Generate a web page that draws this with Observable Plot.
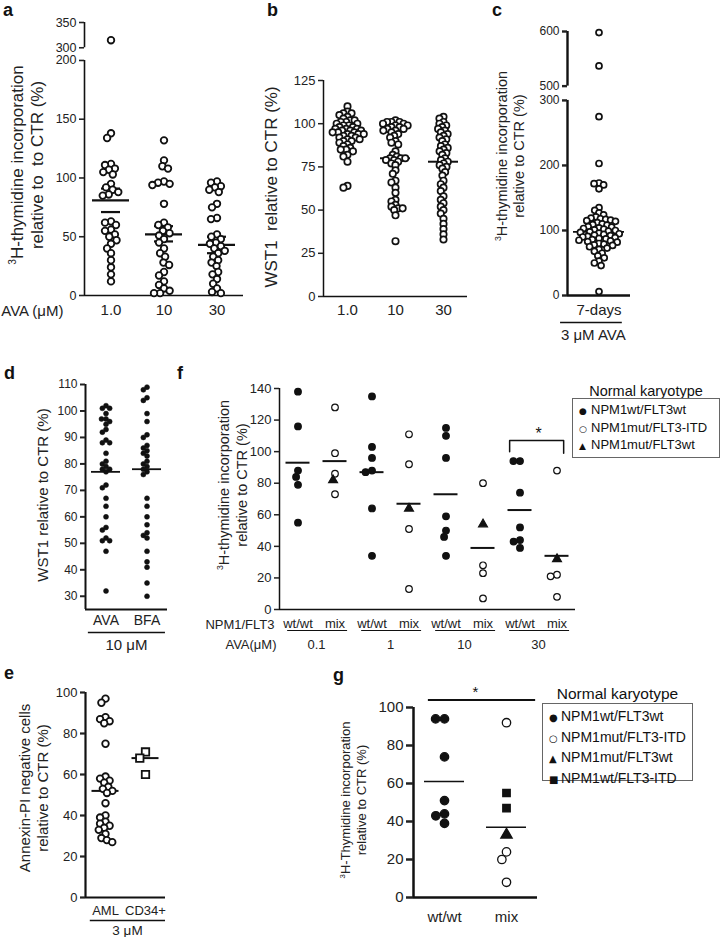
<!DOCTYPE html>
<html><head><meta charset="utf-8">
<script src="https://cdn.jsdelivr.net/npm/d3@7"></script>
<script src="https://cdn.jsdelivr.net/npm/@observablehq/plot@0.6"></script>
<style>
body{margin:0;background:#fff;font-family:"Liberation Sans",Arial,Helvetica,sans-serif;color:#111}
#fig{position:relative;width:723px;height:937px;overflow:hidden;background:#fff}
.lt{position:absolute;font-weight:bold;font-size:18px;line-height:18px}
.yt{position:absolute;transform:translate(-50%,-50%) rotate(-90deg);white-space:nowrap;text-align:center;color:#222}
.yt sup{font-size:0.6em;line-height:0}
.lg{position:absolute;box-sizing:border-box;border:1px solid #666;color:#111}
.lg .s{display:inline-block;width:12px;font-family:"DejaVu Sans";color:#111}
.lh{position:absolute;text-align:center;white-space:nowrap;color:#111}
</style></head>
<body><div id="fig"></div>
<script>
// ---------------- data ----------------
// panel a: 3H-thymidine incorporation, AVA 1.0 / 10 / 30 uM
const aCats = ["1.0", "10", "30"];
const a_1 = [315,138,134,112,111,108,107,105,103,95,92,90,88,86,85,63,62,60,56,55,52,50,47,44,40,36,30,24,18,12];
const a_10 = [132,115,110,108,97,96,95,94,78,62,60,58,55,53,51,48,45,40,36,33,28,26,20,17,12,9,6,4,2,2];
const a_30 = [97,96,93,92,90,88,78,75,66,65,52,50,48,45,44,42,40,38,36,33,30,28,25,20,18,14,10,6,3,2];
const aMeans = [81, 52, 43];
const aSemLo = [71, 46, 36];
const aSemHi = [91, 59, 50];
const aTicks = [0, 50, 100, 150, 200, 300, 350];
const aBreak = [200, 300]; // axis break

// panel b: WST1
const bCats = ["1.0", "10", "30"];
const b_1 = [110,107,106,106,105,104,103,102,102,101,101,100,100,99,99,98,98,97,97,97,96,96,96,95,95,95,94,94,94,93,93,92,92,91,91,90,90,89,88,87,86,85,85,84,82,81,78,64,63];
const b_10 = [102,101,101,101,100,100,99,99,98,98,97,97,96,96,95,94,93,92,90,89,88,84,82,81,80,80,80,79,79,78,77,76,73,71,67,66,63,60,56,55,53,52,51,51,50,47,32];
const b_30 = [104,103,101,100,99,98,97,96,95,94,93,92,91,90,88,87,86,85,84,83,82,80,79,78,77,76,75,74,72,70,67,65,63,61,58,56,54,52,50,48,45,42,39,36,33];
const bMeans = [96, 80, 78];
const bTicks = [0, 25, 50, 75, 100, 125];

// panel c: 7-days, 3 uM AVA
const cCats = ["7-days"];
const c_7 = [598,537,275,203,173,172,170,164,135,131,127,124,121,119,118,117,116,115,114,112,110,109,108,106,105,104,103,102,101,100,99,98,97,96,95,94,93,92,91,90,89,88,87,86,85,84,83,82,80,79,78,77,75,73,71,68,65,61,58,53,50,46,6];
const cMeans = [98];
const cTicks = [0, 100, 200, 300, 500, 600];
const cBreak = [300, 500]; // axis break

// panel d: WST1, AVA vs BFA 10 uM
const dCats = ["AVA", "BFA"];
const d_ava = [102,101,101,99,97,97,96,95,93,92,89,88,88,84,81,80,79,78,78,77,72,71,67,64,60,56,55,52,51,51,47,32];
const d_bfa = [109,108,105,104,99,96,91,90,87,86,85,84,83,81,80,79,78,77,76,67,64,60,57,54,53,52,47,43,41,35,30];
const dMeans = [77, 78];
const dTicks = [30, 40, 50, 60, 70, 80, 90, 100, 110];

// panel e: Annexin-PI negative cells, 3 uM
const eCats = ["AML", "CD34+"];
const e_aml = [97,95,88,87,86,85,75,59,58,57,56,54,53,52,51,46,40,39,37,36,35,34,33,31,29,28,27];
const e_cd34 = [71, 68, 60];
const eMeans = [52, 68];
const eTicks = [0, 20, 40, 60, 80, 100];

// panel f: by NPM1/FLT3 status and AVA dose
const GENOS = ["NPM1wt/FLT3wt", "NPM1mut/FLT3-ITD", "NPM1mut/FLT3wt", "NPM1wt/FLT3-ITD"];
const fDoses = ["0.1", "1", "10", "30"];
const fStatus = ["wt/wt", "mix"];
const f_wtwt = [[138,116,88,84,79,55], [135,103,96,88,87,64,34], [115,110,96,59,50,46,34], [94,94,74,52,44,43,39]];
const f_mix_itd = [[128,99,86,73], [111,92,51,13], [80,28,23,7], [88,22,21,8]];
const f_mix_mutwt = [[82], [64], [54], [32]];
const fMeans = [93, 94, 87, 67, 73, 39, 63, 34];
const fTicks = [0, 20, 40, 60, 80, 100, 120, 140];

// panel g: pooled
const gCats = ["wt/wt", "mix"];
const g_wtwt = [94, 94, 74, 51, 44, 43, 39];
const g_mix_itd = [92, 24, 20, 8];
const g_mix_wtitd = [55, 47];
const g_mix_mutwt = [33];
const gMeans = [61, 37];
const gTicks = [0, 20, 40, 60, 80, 100];

// ---------------- helpers ----------------
const INK = "#111";
const FONT = "Liberation Sans, Arial, Helvetica, sans-serif";
const fig = document.getElementById("fig");
const rows = (cats, lists, geno) => cats.flatMap((c, i) => (lists[i] || []).map(v => ({cat: c, value: v, geno})));
const meanRows = (cats, means) => cats.map((c, i) => ({cat: c, v: means[i]}));
// broken-axis transform: values above the break are shifted down and squeezed
const breakAxis = ([lo, hi], gap, k) => v => v <= lo ? v : lo + gap + (v - hi) * k;

function addPlot(svg, left, top) {
  svg.style.position = "absolute";
  svg.style.left = left + "px";
  svg.style.top = top + "px";
  fig.appendChild(svg);
}
function addDiv(cls, css, html) {
  const d = document.createElement("div");
  d.className = cls; d.style.cssText = css; d.innerHTML = html;
  fig.appendChild(d);
}

function swarm(o) {
  const first = o.cats[0];
  const T = o.yTransform || (v => v);
  const tickLabel = new Map(o.ticks.map(t => [T(t), String(t)]));
  const marks = [
    Plot.ruleY([o.base], {stroke: INK, strokeWidth: o.sw}),
    Plot.ruleX(o.segs, {fx: () => first, x: 0, y1: d => d[0], y2: d => d[1], stroke: INK, strokeWidth: o.sw}),
    Plot.axisY({ticks: o.ticks.map(T), tickFormat: t => tickLabel.get(t), tickSize: o.tickSize, tickPadding: 3, strokeWidth: o.sw, fontSize: o.tickFont, label: null}),
    Plot.axisFx({anchor: "bottom", tickSize: 0, tickPadding: o.catPad, fontSize: o.catFont, label: null, tickFormat: o.catFmt || (d => d)}),
    Plot.tickY(meanRows(o.cats, o.means), {fx: "cat", y: "v", inset: o.meanInset, stroke: INK, strokeWidth: o.meanSW})
  ];
  if (o.sem) {
    const s = o.cats.map((c, i) => ({cat: c, lo: o.sem[0][i], hi: o.sem[1][i]}));
    marks.push(Plot.ruleX(s, {fx: "cat", y1: "lo", y2: "hi", stroke: INK, strokeWidth: o.meanSW}));
    marks.push(Plot.tickY(s, {fx: "cat", y: "lo", inset: o.capInset, stroke: INK, strokeWidth: o.meanSW}));
    marks.push(Plot.tickY(s, {fx: "cat", y: "hi", inset: o.capInset, stroke: INK, strokeWidth: o.meanSW}));
  }
  for (const L of o.layers) {
    marks.push(Plot.dot(L.data, Plot.dodgeX({anchor: "middle", padding: L.pad}, {
      fx: "cat", y: "value", r: L.r, symbol: L.symbol, fill: L.fill, stroke: INK, strokeWidth: L.sw
    })));
  }
  marks.push(...(o.extra || []));
  const y = {domain: o.yDomain};
  if (o.yTransform) y.transform = o.yTransform;
  return Plot.plot({
    width: o.width, height: o.height,
    marginLeft: o.ml, marginRight: o.mr, marginTop: o.mt, marginBottom: o.mb,
    x: {domain: [0, 1], axis: null},
    y,
    fx: {domain: o.cats, padding: 0},
    symbol: {domain: GENOS, range: ["circle", "circle", "triangle", "square"]},
    color: {domain: GENOS, range: [INK, "#fff", INK, INK]},
    style: {fontFamily: FONT, fontSize: "13px", color: "#222", background: "transparent", overflow: "visible"},
    marks
  });
}

// ---------------- panel a ----------------
const aT = breakAxis(aBreak, 10.8, 0.43);
addPlot(swarm({
  width: 250, height: 330, ml: 84, mr: 7, mt: 22, mb: 35,
  cats: aCats, yDomain: [0, aT(350)], yTransform: aT, base: 0,
  ticks: aTicks, segs: [[0, 200], [300, 350]], sw: 1.6, tickSize: 5, tickFont: 12.5,
  catPad: 9, catFont: 15,
  means: aMeans, meanInset: 8, meanSW: 2.2, sem: [aSemLo, aSemHi], capInset: 17,
  layers: [{data: rows(aCats, [a_1, a_10, a_30]), r: 3.3, sw: 1.8, fill: "#fff", symbol: "circle", pad: -0.5}],
  extra: [Plot.text(["AVA (\u03bcM)"], {fx: () => aCats[0], x: 0, y: 0, dx: -21, dy: 16, textAnchor: "end", fontSize: 15, fill: "#222"})]
}), 0, 0);

// ---------------- panel b ----------------
addPlot(swarm({
  width: 235, height: 330, ml: 83, mr: 8, mt: 80, mb: 34,
  cats: bCats, yDomain: [0, 125], base: 0,
  ticks: bTicks, segs: [[0, 125]], sw: 1.5, tickSize: 5, tickFont: 13,
  catPad: 8, catFont: 15,
  means: bMeans, meanInset: 9, meanSW: 2,
  layers: [{data: rows(bCats, [b_1, b_10, b_30]), r: 3.2, sw: 1.7, fill: "#fff", symbol: "circle", pad: -2}]
}), 240, 0);

// ---------------- panel c ----------------
const cT = breakAxis(cBreak, 22, 0.84);
addPlot(swarm({
  width: 165, height: 345, ml: 92, mr: 10, mt: 31, mb: 50,
  cats: cCats, yDomain: [0, cT(600)], yTransform: cT, base: 0,
  ticks: cTicks, segs: [[0, 300], [500, 600]], sw: 2.4, tickSize: 5, tickFont: 12,
  catPad: 9, catFont: 15,
  means: cMeans, meanInset: 6, meanSW: 1.8,
  layers: [{data: rows(cCats, [c_7]), r: 3.0, sw: 1.7, fill: "#fff", symbol: "circle", pad: -1}],
  extra: [
    Plot.ruleY([0], {fx: () => cCats[0], y: () => 0, x1: -0.11, x2: 0.87, dy: 27, stroke: INK, strokeWidth: 1.3}),
    Plot.text(["3 \u03bcM AVA"], {fx: () => cCats[0], x: 0.41, y: 0, dy: 40, fontSize: 15, fill: "#222"})
  ]
}), 475, 0);

// ---------------- panel d ----------------
addPlot(swarm({
  width: 175, height: 270, ml: 85, mr: 8, mt: 4, mb: 41,
  cats: dCats, yDomain: [25, 110], base: 25,
  ticks: dTicks, segs: [[25, 110]], sw: 2, tickSize: 5, tickFont: 12,
  catPad: 6, catFont: 14,
  means: dMeans, meanInset: 6, meanSW: 1.8,
  layers: [{data: rows(dCats, [d_ava, d_bfa]), r: 2.5, sw: 0.5, fill: INK, symbol: "circle", pad: -0.5}],
  extra: [
    Plot.ruleY([25], {fx: () => dCats[0], y: () => 25, x1: 0.07, x2: 1.95, dy: 23, stroke: INK, strokeWidth: 1.3}),
    Plot.text(["10 \u03bcM"], {fx: () => dCats[0], x: 1, y: 25, dy: 36, fontSize: 15, fill: "#222"})
  ]
}), 0, 380);

// ---------------- panel f ----------------
const fCats = fDoses.flatMap(d => fStatus.map(s => d + "|" + s));
const fPts = [
  ...rows(fDoses.map(d => d + "|wt/wt"), f_wtwt, GENOS[0]),
  ...rows(fDoses.map(d => d + "|mix"), f_mix_itd, GENOS[1]),
  ...rows(fDoses.map(d => d + "|mix"), f_mix_mutwt, GENOS[2])
];
const bracket = [{x: 0.22, y: 100}, {x: 0.22, y: 107}, {x: 1.68, y: 107}, {x: 1.68, y: 99}];
addPlot(swarm({
  width: 405, height: 275, ml: 103, mr: 5, mt: 8, mb: 46,
  cats: fCats, yDomain: [0, 140], base: 0, catFmt: d => d.split("|")[1],
  ticks: fTicks, segs: [[0, 140]], sw: 1.5, tickSize: 5, tickFont: 13,
  catPad: 9, catFont: 13,
  means: fMeans, meanInset: 6.5, meanSW: 2,
  layers: [{data: fPts, r: 3.3, sw: 1.2, fill: "geno", symbol: "geno", pad: 0}],
  extra: [
    Plot.ruleY(fDoses, {fx: d => d + "|wt/wt", y: () => 0, x1: 0.22, x2: 1.84, dy: 21, stroke: INK, strokeWidth: 1.2}),
    Plot.text(fDoses, {fx: d => d + "|wt/wt", x: 1, y: 0, dy: 35, fontSize: 13, fill: "#222"}),
    Plot.text(["NPM1/FLT3"], {fx: () => fCats[0], x: 0, y: 0, dx: -5, dy: 15, textAnchor: "end", fontSize: 13, fill: "#222"}),
    Plot.text(["AVA(\u03bcM)"], {fx: () => fCats[0], x: 0, y: 0, dx: -3, dy: 35, textAnchor: "end", fontSize: 13, fill: "#222"}),
    Plot.line(bracket, {fx: () => "30|wt/wt", x: "x", y: "y", stroke: INK, strokeWidth: 1.5}),
    Plot.text(["*"], {fx: () => "30|wt/wt", x: 1, y: 111, fontSize: 16, fill: INK})
  ]
}), 175, 380);

// ---------------- panel e ----------------
addPlot(swarm({
  width: 175, height: 277, ml: 85, mr: 10, mt: 32, mb: 40,
  cats: eCats, yDomain: [0, 100], base: 0,
  ticks: eTicks, segs: [[0, 100]], sw: 2.2, tickSize: 5, tickFont: 13,
  catPad: 8, catFont: 13,
  means: eMeans, meanInset: 6.5, meanSW: 2,
  layers: [
    {data: rows(["AML"], [e_aml]), r: 3.3, sw: 1.8, fill: "#fff", symbol: "circle", pad: -0.8},
    {data: rows(["CD34+"], [e_cd34]), r: 4.2, sw: 1.8, fill: "#fff", symbol: "square", pad: 0}
  ],
  extra: [
    Plot.ruleY([0], {fx: () => eCats[0], y: () => 0, x1: 0.12, x2: 2.0, dy: 23, stroke: INK, strokeWidth: 1.3}),
    Plot.text(["3 \u03bcM"], {fx: () => eCats[0], x: 1.05, y: 0, dy: 33, fontSize: 13.5, fill: "#222"})
  ]
}), 0, 660);

// ---------------- panel g ----------------
const gPts = [
  ...rows(["wt/wt"], [g_wtwt], GENOS[0]),
  ...rows(["mix"], [g_mix_itd], GENOS[1]),
  ...rows(["mix"], [g_mix_wtitd], GENOS[3]),
  ...rows(["mix"], [g_mix_mutwt], GENOS[2])
];
addPlot(swarm({
  width: 220, height: 257, ml: 82, mr: 13, mt: 27, mb: 40,
  cats: gCats, yDomain: [0, 100], base: 0,
  ticks: gTicks, segs: [[0, 100]], sw: 2.5, tickSize: 7, tickFont: 15,
  catPad: 14, catFont: 15,
  means: gMeans, meanInset: 11, meanSW: 1.5,
  layers: [{data: gPts, r: 4.2, sw: 1.3, fill: "geno", symbol: "geno", pad: 0.5}],
  extra: [
    Plot.ruleY([104], {fx: () => gCats[0], y: () => 104, x1: 0.24, x2: 1.97, stroke: INK, strokeWidth: 2}),
    Plot.text(["*"], {fx: () => gCats[0], x: 1, y: 108, fontSize: 15, fill: INK})
  ]
}), 330, 680);

// ---------------- overlays: panel letters, y titles, legends ----------------
addDiv("lt", "left:3px;top:1px", "a");
addDiv("lt", "left:267px;top:1px", "b");
addDiv("lt", "left:492px;top:1px", "c");
addDiv("lt", "left:4px;top:364px", "d");
addDiv("lt", "left:177px;top:364px", "f");
addDiv("lt", "left:4px;top:664px", "e");
addDiv("lt", "left:333px;top:666px", "g");

addDiv("yt", "left:28px;top:165px;font-size:17px;line-height:20px", "<sup>3</sup>H-thymidine incorporation<br>relative to&nbsp; to CTR (%)");
addDiv("yt", "left:272px;top:187px;font-size:17px;line-height:20px", "WST1&nbsp; relative to CTR (%)");
addDiv("yt", "left:511px;top:156px;font-size:14.5px;line-height:17px", "<sup>3</sup>H-thymidine incorporation<br>relative to CTR (%)");
addDiv("yt", "left:43px;top:495px;font-size:15px;line-height:18px", "WST1 relative to CTR (%)");
addDiv("yt", "left:233px;top:485px;font-size:14.5px;line-height:18px", "<sup>3</sup>H-thymidine incorporation<br>relative to CTR (%)");
addDiv("yt", "left:34px;top:788px;font-size:15px;line-height:18px", "Annexin-PI negative cells<br>relative to CTR (%)");
addDiv("yt", "left:354px;top:800px;font-size:13px;line-height:16px", "<sup>3</sup>H-Thymidine incorporation<br>relative to CTR (%)");

// legends
const legSym = {"NPM1wt/FLT3wt": "\u25cf", "NPM1mut/FLT3-ITD": "\u25cb", "NPM1mut/FLT3wt": "\u25b2", "NPM1wt/FLT3-ITD": "\u25a0"};
function legend(left, top, w, h, fs, lh, symFs, items, titleTop) {
  addDiv("lh", `left:${left - 10}px;width:${w + 20}px;top:${titleTop}px;font-size:${fs + 1.5}px`, "Normal karyotype");
  addDiv("lg", `left:${left}px;top:${top}px;width:${w}px;height:${h}px;font-size:${fs}px;line-height:${lh}px;padding:3px 0 0 6px`,
    items.map(g => `<div><span class="s" style="font-size:${symFs}px">${legSym[g]}</span>${g}</div>`).join(""));
}
legend(572, 398, 148, 60, 13, 16.5, 9, GENOS.slice(0, 3), 383);
legend(542, 703, 151, 78, 14, 18.5, 10, GENOS, 685);
</script>
</body></html>
